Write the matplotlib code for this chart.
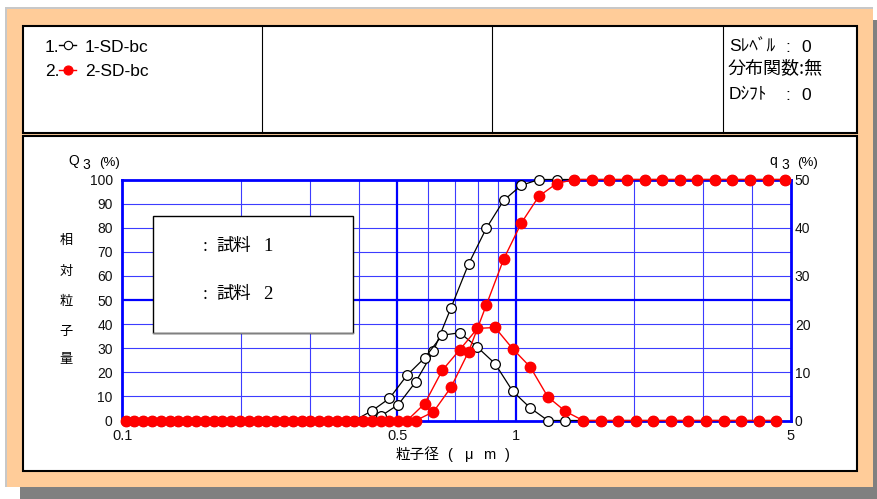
import matplotlib
matplotlib.use('Agg')
import matplotlib.pyplot as plt
from matplotlib.patches import Rectangle
from matplotlib.lines import Line2D

# ---------------- data ----------------
# class upper bounds (cumulative Q3 plotted here), um
sizes_Q3 = [0.1073, 0.1189, 0.1318, 0.1461, 0.1620, 0.1796, 0.1990, 0.2206, 0.2446, 0.2711,
            0.3005, 0.3331, 0.3692, 0.4093, 0.4537, 0.5029, 0.5574, 0.6179, 0.6849, 0.7592,
            0.8415, 0.9328, 1.034, 1.146, 1.270, 1.408, 1.561, 1.730, 1.918, 2.126,
            2.357, 2.612, 2.896, 3.210, 3.558, 3.944, 4.372, 4.846]
# class mid points (frequency q3 plotted here), um
sizes_q3 = [0.1019, 0.1130, 0.1252, 0.1388, 0.1539, 0.1706, 0.1891, 0.2096, 0.2323, 0.2575,
            0.2854, 0.3164, 0.3507, 0.3887, 0.4309, 0.4776, 0.5294, 0.5869, 0.6505, 0.7211,
            0.7993, 0.8860, 0.9821, 1.089, 1.207, 1.338, 1.483, 1.644, 1.822, 2.019,
            2.238, 2.481, 2.750, 3.049, 3.379, 3.746, 4.152, 4.603]

# sample 1 (1-SD-bc)
Q3_s1 = [0, 0, 0, 0, 0, 0, 0, 0, 0, 0, 0, 0, 0, 0,
         1.8, 6.6, 16.1, 28.8, 46.8, 65.0, 79.7, 91.4, 97.6, 100,
         100, 100, 100, 100, 100, 100, 100, 100, 100, 100, 100, 100, 100, 100]
q3_s1 = [0, 0, 0, 0, 0, 0, 0, 0, 0, 0, 0, 0, 0, 0,
         2.0, 4.6, 9.4, 13.0, 17.7, 18.2, 15.2, 11.8, 6.1, 2.6,
         0, 0, 0, 0, 0, 0, 0, 0, 0, 0, 0, 0, 0, 0]
# sample 2 (2-SD-bc)
Q3_s2 = [0, 0, 0, 0, 0, 0, 0, 0, 0, 0, 0, 0, 0, 0, 0, 0, 0,
         3.6, 13.8, 28.6, 47.8, 67.1, 82.0, 93.1, 98.3,
         100, 100, 100, 100, 100, 100, 100, 100, 100, 100, 100, 100, 100]
q3_s2 = [0, 0, 0, 0, 0, 0, 0, 0, 0, 0, 0, 0, 0, 0, 0, 0, 0,
         3.5, 10.4, 14.7, 19.1, 19.3, 14.9, 11.1, 4.9, 1.9,
         0, 0, 0, 0, 0, 0, 0, 0, 0, 0, 0, 0]

xticks = [0.1, 0.5, 1, 5]
xtick_labels = ['0.1', '0.5', '1', '5']
xgrid_minor = [0.2, 0.3, 0.4, 0.6, 0.7, 0.8, 0.9, 2, 3, 4]
xgrid_major = [0.5, 1]
yticks_left = [0, 10, 20, 30, 40, 50, 60, 70, 80, 90, 100]
yticks_right = [0, 10, 20, 30, 40, 50]
series_names = ['1-SD-bc', '2-SD-bc']
legend_word = '試料'
legend_nums = ['1', '2']
ylabel_chars = ['相', '対', '粒', '子', '量']
# ---------------------------------------

W, H = 877, 499
fig = plt.figure(figsize=(W / 100, H / 100), dpi=100)
fig.patch.set_facecolor('white')

def fx(x):
    return x / W

def fy(y):
    return 1 - y / H

def frect(x0, y0, x1, y1, **kw):
    r = Rectangle((fx(x0), fy(y1)), (x1 - x0) / W, (y1 - y0) / H,
                  transform=fig.transFigure, **kw)
    fig.add_artist(r)
    return r

SANS = ['Liberation Sans', 'Noto Sans CJK JP', 'DejaVu Sans']
CJK = ['Noto Sans CJK JP', 'DejaVu Sans']
SERIF = ['Liberation Serif', 'Noto Sans CJK JP', 'DejaVu Sans']

# background panels
frect(20, 20, 880, 502, facecolor='#808080', edgecolor='none', zorder=-5)
frect(5, 7, 872.7, 486.7, facecolor='#c8c8c8', edgecolor='none', zorder=-4.9)
frect(7, 9, 872.7, 486.7, facecolor='#ffcc99', edgecolor='none', zorder=-4.8)
frect(22.5, 25.5, 857, 132.5, facecolor='white', edgecolor='black', linewidth=1.5, zorder=-4.7)
frect(22.5, 136, 857, 471, facecolor='white', edgecolor='black', linewidth=1.5, zorder=-4.7)
for xd in [262, 492, 723]:
    fig.add_artist(Line2D([fx(xd), fx(xd)], [fy(25.5), fy(132.5)], color='black',
                          linewidth=0.8, transform=fig.transFigure, zorder=-4.6))

# header legend
colors = ['black', 'red']
faces = ['white', 'red']
baselines = [51.5, 76]
for i in range(2):
    fig.text(fx(45), fy(baselines[i]), f'{i + 1}.', ha='left', va='baseline',
             fontsize=12.5, family=SANS)
    yc = baselines[i] - 6.5
    fig.add_artist(Line2D([fx(59), fx(67.5), fx(76)], [fy(yc)] * 3, color=colors[i],
                          linewidth=1, marker='o', markevery=[1], markersize=6 if i == 0 else 6.5,
                          markerfacecolor=faces[i], markeredgecolor=colors[i], markeredgewidth=0.8,
                          transform=fig.transFigure, zorder=5))
    fig.text(fx(85), fy(baselines[i]), series_names[i], ha='left', va='baseline',
             fontsize=12.5, family=SANS)

# header right info
fig.text(fx(729), fy(51.5), 'Sﾚﾍﾞﾙ', ha='left', va='baseline', fontsize=12.5, family=SANS)
fig.text(fx(788), fy(51.5), ':', ha='center', va='baseline', fontsize=12.5, family=SANS)
fig.text(fx(806), fy(51.5), '0', ha='center', va='baseline', fontsize=12.5, family=SANS)
fig.text(fx(728), fy(74.5), '分布関数:無', ha='left', va='baseline', fontsize=13, family=CJK)
fig.text(fx(729), fy(99.5), 'Dｼﾌﾄ', ha='left', va='baseline', fontsize=12.5, family=SANS)
fig.text(fx(788), fy(99.5), ':', ha='center', va='baseline', fontsize=12.5, family=SANS)
fig.text(fx(806), fy(99.5), '0', ha='center', va='baseline', fontsize=12.5, family=SANS)

# ---------------- plot area ----------------
AX_L, AX_R, AX_T, AX_B = 122.4, 790.6, 179.5, 420.5
ax = fig.add_axes([fx(AX_L), fy(AX_B), (AX_R - AX_L) / W, (AX_B - AX_T) / H])
ax.set_zorder(1)
ax.set_xscale('log')
ax.set_xlim(0.1, 5)
ax.set_ylim(0, 100)
ax.set_facecolor('white')

BLUE = '#0000ff'
GRID = '#3c3cff'
for xv in xgrid_minor:
    ax.axvline(xv, color=GRID, linewidth=0.8, zorder=1)
for xv in xgrid_major:
    ax.axvline(xv, color=BLUE, linewidth=1.6, zorder=1.2)
for yv in yticks_left[1:-1]:
    if yv == 50:
        ax.axhline(yv, color=BLUE, linewidth=1.6, zorder=1.2)
    else:
        ax.axhline(yv, color=GRID, linewidth=0.8, zorder=1)

for s in ax.spines.values():
    s.set_color(BLUE)
    s.set_linewidth(2.0)

ax.set_xticks(xticks)
ax.set_xticklabels(xtick_labels)
ax.minorticks_off()
ax.set_yticks(yticks_left)
ax.tick_params(axis='both', length=0, labelsize=10, labelcolor='#111111')
ax.tick_params(axis='x', pad=6, labelsize=10.5)
ax.tick_params(axis='y', pad=7)
for lab in ax.get_xticklabels() + ax.get_yticklabels():
    lab.set_family(SANS)

# sample-name box inside the plot
ax.add_patch(Rectangle((0.0462, 0.3643), 0.2994, 0.4842, transform=ax.transAxes,
                       facecolor='white', edgecolor='black', linewidth=1.0, zorder=3))
ax.add_line(Line2D([0.0462, 0.3456], [0.3610, 0.3610], transform=ax.transAxes,
                   color='#808080', linewidth=1.0, zorder=3))

ax2 = ax.twinx()
ax2.set_zorder(2)
ax2.patch.set_visible(False)
ax2.set_ylim(0, 50)
ax2.set_yticks(yticks_right)
ax2.tick_params(axis='y', length=0, labelsize=10, pad=3, labelcolor='#111111')
for lab in ax2.get_yticklabels():
    lab.set_family(SANS)
for s in ax2.spines.values():
    s.set_visible(False)

# curves: cumulative Q3 on left scale, frequency q3 on right scale
ax2.plot(sizes_Q3, Q3_s1, transform=ax.transData, color='black', linewidth=0.9,
         marker='o', markersize=7, markerfacecolor='white', markeredgecolor='black',
         markeredgewidth=0.9, clip_on=False, zorder=4)
ax2.plot(sizes_q3, q3_s1, color='black', linewidth=0.9,
         marker='o', markersize=7, markerfacecolor='white', markeredgecolor='black',
         markeredgewidth=0.9, clip_on=False, zorder=4)
ax2.plot(sizes_Q3, Q3_s2, transform=ax.transData, color='red', linewidth=1.0,
         marker='o', markersize=7.5, markerfacecolor='red', markeredgecolor='red',
         clip_on=False, zorder=5)
ax2.plot(sizes_q3, q3_s2, color='red', linewidth=1.0,
         marker='o', markersize=7.5, markerfacecolor='red', markeredgecolor='red',
         clip_on=False, zorder=5)
ax2.set_xlim(0.1, 5)
ax2.set_ylim(0, 50)

# texts in the name box
for yb, num in zip([250.7, 299], legend_nums):
    fig.text(fx(203), fy(yb), ':', ha='left', va='baseline', fontsize=13, family=SERIF, zorder=10)
    fig.text(fx(216), fy(yb), legend_word, ha='left', va='baseline', fontsize=12.5,
             family=CJK, zorder=10)
    fig.text(fx(263), fy(yb), num, ha='left', va='baseline', fontsize=13.5, family=SERIF, zorder=10)

# axis titles
fig.text(fx(73.5), fy(165), 'Q', ha='center', va='baseline', fontsize=10, family=SANS)
fig.text(fx(86), fy(169.3), '3', ha='center', va='baseline', fontsize=10, family=SANS)
fig.text(fx(109), fy(166), '(%)', ha='center', va='baseline', fontsize=9.5, family=SANS)
fig.text(fx(773), fy(165), 'q', ha='center', va='baseline', fontsize=10, family=SANS)
fig.text(fx(785.5), fy(169.3), '3', ha='center', va='baseline', fontsize=10, family=SANS)
fig.text(fx(808), fy(166), '(%)', ha='center', va='baseline', fontsize=9.5, family=SANS)

ylab_y = [240, 271, 301, 331, 359]
for ch, yy in zip(ylabel_chars, ylab_y):
    fig.text(fx(66), fy(yy), ch, ha='center', va='center', fontsize=9.5, family=CJK)

# x axis title: 粒子径 ( μ m )
fig.text(fx(396), fy(459), '粒子径', ha='left', va='baseline', fontsize=10.5, family=CJK)
for ch, xc in zip(['(', 'μ', 'm', ')'], [450, 469, 489, 507]):
    fig.text(fx(xc), fy(459), ch, ha='center', va='baseline', fontsize=10.5, family=SANS)

fig.savefig('out.png', dpi=100, facecolor='white')
